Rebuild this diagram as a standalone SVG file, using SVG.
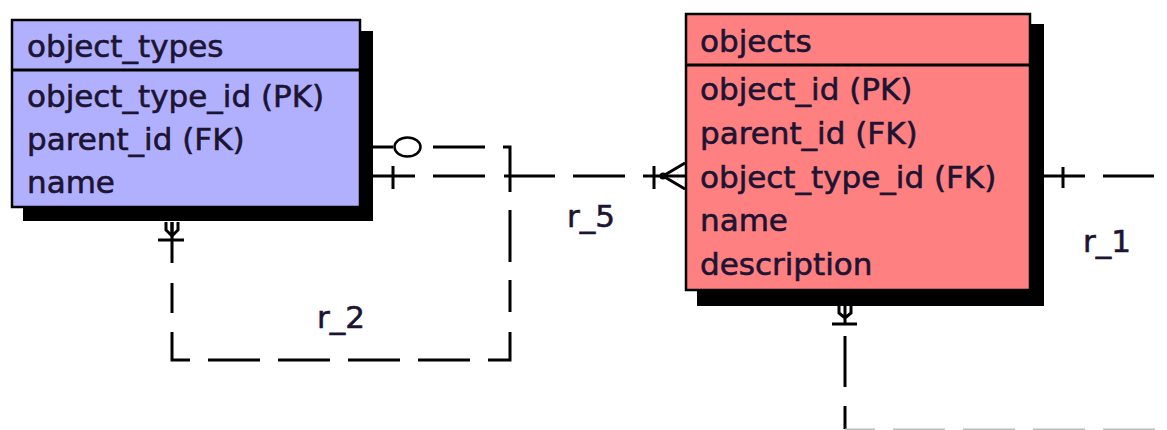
<svg xmlns="http://www.w3.org/2000/svg" width="1167" height="430" viewBox="0 0 1167 430">
<style>
.t{font-family:"DejaVu Sans","Liberation Sans",sans-serif;font-size:31px;fill:#1c1432;stroke:#1c1432;stroke-width:0.6}
.box{stroke:#000;stroke-width:2.5}
.sep{stroke:#000;stroke-width:3}
.sh{fill:#000}
.ln{fill:none;stroke:#000;stroke-width:3;stroke-linecap:butt}
.lb{font-family:"DejaVu Sans","Liberation Sans",sans-serif;font-size:31px;fill:#1c1432;stroke:#1c1432;stroke-width:0.6}
</style>
<rect width="1167" height="430" fill="#fff"/>
<g id="object_types">
<rect class="sh" x="23" y="31" width="350" height="190"/>
<rect class="box" x="12" y="20" width="348" height="187" fill="#b0b0ff"/>
<line class="sep" x1="12" y1="70" x2="360" y2="70"/>
<text class="t" x="27" y="57">object_types</text>
<text class="t" x="27" y="107">object_type_id (PK)</text>
<text class="t" x="27" y="150">parent_id (FK)</text>
<text class="t" x="27" y="193">name</text>
</g>
<g id="objects">
<rect class="sh" x="697" y="24" width="347" height="282"/>
<rect class="box" x="686" y="14" width="344" height="276" fill="#ff8080"/>
<line class="sep" x1="686" y1="65" x2="1030" y2="65"/>
<text class="t" x="700" y="52">objects</text>
<text class="t" x="700" y="100">object_id (PK)</text>
<text class="t" x="700" y="144">parent_id (FK)</text>
<text class="t" x="700" y="187.5">object_type_id (FK)</text>
<text class="t" x="700" y="231">name</text>
<text class="t" x="700" y="275">description</text>
</g>
<g id="connectors">
<g id="r_2">
<path class="ln" d="M373 147H393M433 147H485M503 147H510V192M510 210V262M510 280V312M510 332V360H488M470 360H418M400 360H348M330 360H278M260 360H208M190 360H172V332M172 313V283M172 263V222"/>
<ellipse cx="407.5" cy="147" rx="13" ry="9.5" fill="#fff" stroke="#000" stroke-width="2.5"/>
<path class="ln" d="M158 240H184M166 222V230L172 236L178 230V222M172 222V236"/>
<text class="lb" x="317" y="328">r_2</text>
</g>
<g id="r_5">
<path class="ln" d="M373 176H415M433 176H485M504 176H555M573 176H625M643 176H685"/>
<path class="ln" d="M393 166V189M654 166V189M663 176L685 163M663 176L685 189"/>
<circle cx="663" cy="176" r="3.5" fill="#000"/>
<text class="lb" x="567" y="227">r_5</text>
</g>
<g id="r_1">
<path class="ln" d="M1044 176H1085M1103 176H1154M1063 167V188"/>
<text class="lb" x="1083" y="252">r_1</text>
</g>
<g id="r_3">
<path class="ln" d="M839 306V313L845 318L851 313V306M845 306V324M832 324H857M845 336V387M845 406V429"/>
<path d="M845 429.5H875M893 429.5H945M963 429.5H1015M1033 429.5H1085M1103 429.5H1155" fill="none" stroke="#bbb" stroke-width="2"/>
</g>
</g>
</svg>
